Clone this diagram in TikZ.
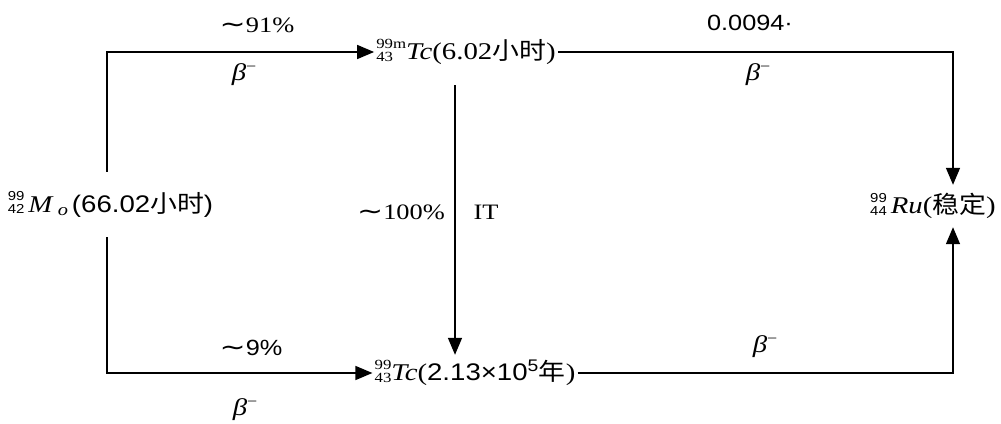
\documentclass[tikz,border=0pt]{standalone}
\usepackage{fontspec}
\setmainfont[FakeStretch=1.2]{Liberation Serif}
\newfontfamily\sansf[FakeStretch=1.15]{Liberation Sans}
\newfontfamily\cjk[FakeStretch=1.12]{Noto Sans CJK SC}
\newfontfamily\symf[FakeStretch=1.3]{DejaVu Sans}
\usetikzlibrary{arrows.meta,calc}
% isotope prefix: #1 mass (top), #2 atomic number (bottom), #3 font
\newcommand{\iso}[3]{\setbox0=\hbox{#3#1}\setbox2=\hbox{#3#2}%
  \dimen0=\ifdim\wd0>\wd2 \wd0\else\wd2\fi
  \hbox to\dimen0{\rlap{\raisebox{11.5pt}{\copy0}}\raisebox{-1.5pt}{\copy2}\hss}}
\newcommand{\isoserif}{\fontsize{14}{14}\selectfont}
\newcommand{\isosans}{\fontsize{13}{13}\selectfont\sansf}
\newcommand{\betam}{{\fontsize{24}{28}\selectfont\textit{β}\raisebox{9pt}{\fontsize{15}{15}\selectfont −}}}
\newcommand{\tld}{{\symf\fontsize{24}{28}\selectfont ∼}}
\begin{document}
\begin{tikzpicture}[x=1pt,y=-1pt,
  nuc/.style={inner xsep=2pt, inner ysep=0pt, font=\fontsize{24}{28}\selectfont},
  lab/.style={inner sep=0pt, font=\fontsize{22}{26}\selectfont},
  arr/.style={line width=1.5pt, -{Triangle[length=17pt,width=14pt]}}]
\useasboundingbox (0,0) rectangle (1001,423);

% nuclide nodes
\node[nuc, minimum height=65pt] (Mo) at (110.5,204.5)
  {\iso{99}{42}{\isosans}\,\textit{M}\,\raisebox{-3pt}{\fontsize{17}{17}\selectfont\textit{o}}\,{\sansf(66.02}{\cjk 小时}{\sansf)}};
\node[nuc, minimum height=66pt] (Tcm) at (466,52)
  {\iso{99m}{43}{\isoserif}\textit{Tc}(6.02{\cjk 小时})};
\node[nuc, minimum height=36pt] (Tc) at (475,373)
  {\iso{99}{43}{\isoserif}\textit{Tc}({\sansf 2.13×10\textsuperscript{5}}{\cjk 年})};
\node[nuc, minimum height=42pt] (Ru) at (933,206)
  {\iso{99}{44}{\isosans}\,\textit{Ru}({\cjk 稳定})};

% connectors
\draw[arr] ([xshift=-3.5pt]Mo.north) |- (Tcm.west);
\draw[arr] ([xshift=-3.5pt]Mo.south) |- (Tc.west);
\draw[arr] ([xshift=-11pt]Tcm.south) -- ([xshift=-11pt]Tcm.south |- Tc.north);
\draw[arr] (Tcm.east) -| ([xshift=20pt]Ru.north);
\draw[arr] (Tc.east) -| ([xshift=20pt]Ru.south);

% labels
\node[lab] (l91) at (257,25) {\tld 91\%};
\node[lab] (b1) at (244,75) {\betam};
\node[lab] (l94) at (750,23) {\sansf 0.0094·};
\node[lab] (b2) at (758,75) {\betam};
\node[lab] (l100) at (401,212) {\tld 100\%};
\node[lab] (lIT) at (486,212) {IT};
\node[lab] (l9) at (251,348) {\tld{\sansf 9\%}};
\node[lab] (b3) at (245,410) {\betam};
\node[lab] (b4) at (765,347) {\betam};
\end{tikzpicture}
\end{document}
